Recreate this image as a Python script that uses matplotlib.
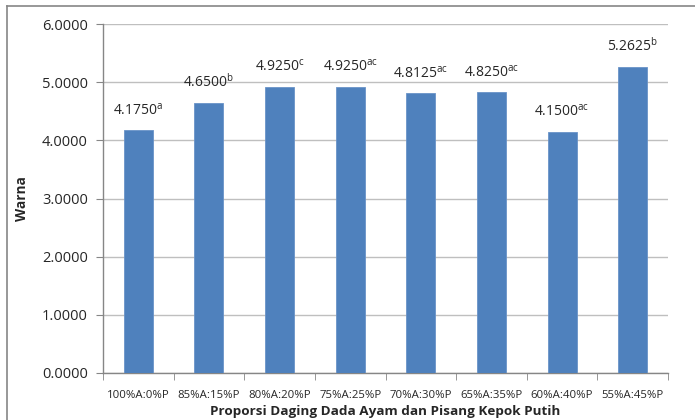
import matplotlib
matplotlib.use("Agg")
import matplotlib.pyplot as plt
from matplotlib.lines import Line2D
import numpy as np

categories = ["100%A:0%P", "85%A:15%P", "80%A:20%P", "75%A:25%P",
              "70%A:30%P", "65%A:35%P", "60%A:40%P", "55%A:45%P"]
values = [4.1750, 4.6500, 4.9250, 4.9250, 4.8125, 4.8250, 4.1500, 5.2625]
letters = ["a", "b", "c", "ac", "ac", "ac", "ac", "b"]
yticks = [0, 1, 2, 3, 4, 5, 6]

plt.rcParams['font.family'] = ['Open Sans', 'DejaVu Sans']
txt = '#262626'

W, H = 695, 420
fig = plt.figure(figsize=(W/100, H/100), dpi=100)
ax = fig.add_axes([103/W, 1-373/H, (668-103)/W, (373-24)/H])

x = np.arange(len(categories))
ax.bar(x, values, width=0.41, color='#4F81BD', edgecolor='#6A93C8',
       linewidth=0.6, zorder=3)

ax.set_xlim(-0.5, len(categories)-0.5)
ax.set_ylim(0, 6)
ax.set_yticks(yticks)
ax.set_yticklabels([f"{v:.4f}" for v in yticks], fontsize=10.5, color=txt)
ax.yaxis.grid(True, color='#BFBFBF', linewidth=1.0, zorder=0)
ax.set_axisbelow(True)

ax.set_xticks(x)
ax.set_xticklabels(categories, fontsize=8.2, color=txt)
ax.tick_params(axis='x', length=0, pad=12.5)
ax.set_xticks(np.arange(-0.5, len(categories)), minor=True)
ax.tick_params(axis='x', which='minor', length=5, color='#868686', direction='out')
ax.tick_params(axis='y', length=5, color='#868686', direction='out', pad=6)

for s in ['top', 'right']:
    ax.spines[s].set_visible(False)
for s in ['left', 'bottom']:
    ax.spines[s].set_color('#868686')
    ax.spines[s].set_linewidth(1.0)

for xi, v, l in zip(x, values, letters):
    ax.annotate(r"$\mathregular{" + f"{v:.4f}" + "^{" + l + "}}$",
                xy=(xi, v), xytext=(0, 11.5), textcoords='offset points',
                ha='center', va='baseline', fontsize=10, color=txt)

ax.set_ylabel("Warna", fontsize=9.8, fontweight='bold', color=txt,
              ha='center', va='center')
ax.yaxis.set_label_coords((22-103)/565, 0.5)
ax.set_xlabel("Proporsi Daging Dada Ayam dan Pisang Kepok Putih", fontsize=9.7,
              fontweight='bold', color=txt, ha='center', va='center')
ax.xaxis.set_label_coords(0.5, (373-412)/349)

# outer chart frame (left and top visible)
fig.add_artist(Line2D([7/W, 7/W], [0, 1-6/H], transform=fig.transFigure,
                      color='#868686', linewidth=1.2))
fig.add_artist(Line2D([7/W, 1], [1-6/H, 1-6/H], transform=fig.transFigure,
                      color='#868686', linewidth=1.2))

fig.savefig("out.png", dpi=100)
